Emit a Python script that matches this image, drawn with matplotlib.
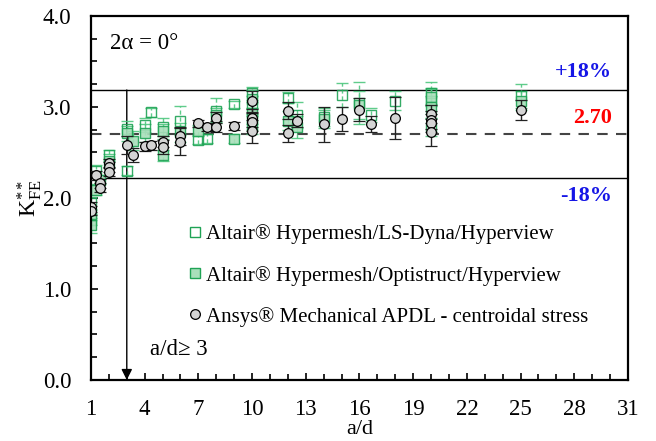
import numpy as np
import matplotlib
matplotlib.use("Agg")
import matplotlib.pyplot as plt
from matplotlib.lines import Line2D
from matplotlib.ticker import MultipleLocator, FixedLocator

plt.rcParams['font.family'] = ['Liberation Serif', 'DejaVu Serif']
plt.rcParams['mathtext.fontset'] = 'custom'
plt.rcParams['mathtext.rm'] = 'Liberation Serif'
plt.rcParams['mathtext.it'] = 'Liberation Serif:italic'

# Altair Hypermesh / LS-Dyna (open squares)
lsdyna_x = [1.0, 1.0, 1.3, 2.0, 3.0, 3.0, 4.0, 4.33, 5.0, 6.0, 7.0, 7.5, 8.0, 9.0,
            10.0, 10.0, 10.0, 12.0, 12.5, 14.0, 15.0, 16.0, 16.67, 18.0, 20.0, 20.0, 20.0, 25.0]
lsdyna_y = [1.76, 1.94, 2.30, 2.47, 2.76, 2.30, 2.80, 2.94, 2.78, 2.85, 2.64, 2.65, 2.96, 3.03,
            3.15, 3.02, 2.87, 3.10, 2.91, 2.89, 3.13, 3.04, 2.91, 3.07, 3.15, 3.06, 2.78, 3.12]
lsdyna_err = [0.06, 0.07, 0.06, 0.06, 0.08, 0.05, 0.08, 0.05, 0.10, 0.16, 0.05, 0.05, 0.14, 0.04,
              0.07, 0.10, 0.12, 0.06, 0.14, 0.10, 0.13, 0.23, 0.08, 0.10, 0.12, 0.14, 0.10, 0.13]

# Altair Hypermesh / Optistruct (filled squares)
optistruct_x = [1.0, 1.0, 1.3, 1.5, 2.0, 3.0, 3.33, 4.0, 5.0, 5.0, 6.0, 7.0, 8.0, 9.0,
                10.0, 10.0, 10.0, 12.0, 12.5, 14.0, 16.0, 20.0, 20.0, 25.0]
optistruct_y = [1.70, 1.82, 2.09, 2.20, 2.41, 2.71, 2.63, 2.71, 2.73, 2.47, 2.72, 2.74, 2.91, 2.65,
                3.09, 2.93, 2.80, 2.85, 2.78, 2.87, 3.02, 3.11, 3.00, 3.07]
optistruct_err = [0.08, 0.06, 0.06, 0.05, 0.07, 0.08, 0.10, 0.10, 0.08, 0.06, 0.10, 0.06, 0.08, 0.05,
                  0.10, 0.12, 0.10, 0.10, 0.12, 0.10, 0.15, 0.10, 0.12, 0.10]

# Ansys Mechanical APDL - centroidal stress (grey circles)
ansys_x = [1.0, 1.0, 1.3, 1.5, 1.5, 2.0, 2.0, 2.0, 3.0, 3.33, 4.0, 4.33, 5.0, 5.0, 6.0, 6.0,
           7.0, 7.5, 8.0, 8.0, 9.0, 10.0, 10.0, 10.0, 10.0, 12.0, 12.0, 12.5, 14.0, 15.0,
           16.0, 16.67, 18.0, 20.0, 20.0, 20.0, 20.0, 25.0]
ansys_y = [1.90, 1.86, 2.25, 2.16, 2.11, 2.38, 2.34, 2.29, 2.58, 2.47, 2.57, 2.58, 2.62, 2.56,
           2.68, 2.62, 2.82, 2.78, 2.88, 2.78, 2.79, 3.06, 2.88, 2.83, 2.73, 2.96, 2.71, 2.85,
           2.81, 2.87, 2.97, 2.81, 2.88, 2.92, 2.86, 2.82, 2.72, 2.97]
ansys_err = [0.05, 0.05, 0.05, 0.05, 0.05, 0.05, 0.05, 0.05, 0.10, 0.08, 0.05, 0.05, 0.06, 0.08,
             0.10, 0.15, 0.04, 0.04, 0.06, 0.06, 0.04, 0.12, 0.10, 0.10, 0.13, 0.09, 0.09, 0.07,
             0.19, 0.13, 0.13, 0.09, 0.23, 0.10, 0.10, 0.10, 0.15, 0.11]

mean_k = 2.70
band = 0.18

green = '#1fa355'
green_light = '#4fc77f'
green_fill = '#a9dfbb'

fig = plt.figure(figsize=(6.56, 4.41), dpi=100)
ax = fig.add_axes([0.1387, 0.1383, 0.8186, 0.8257])

ax.errorbar(lsdyna_x, lsdyna_y, yerr=lsdyna_err, fmt='s', ms=7, mfc='none', mec=green,
            mew=1.0, ecolor=green_light, elinewidth=1.0, capsize=4, capthick=1.0,
            ls='none', alpha=0.9, zorder=2)
ax.errorbar(optistruct_x, optistruct_y, yerr=optistruct_err, fmt='s', ms=7, mfc=green_fill,
            mec=green, mew=1.0, ecolor=green_light, elinewidth=1.0, capsize=4, capthick=1.0,
            ls='none', alpha=0.9, zorder=2)
for cont in ax.containers:
    for lc in cont[2]:
        lc.set_linestyle((0, (3, 2)))
ax.errorbar(ansys_x, ansys_y, yerr=ansys_err, fmt='o', ms=7, mfc='#d4d4d4', mec='black',
            mew=0.9, ecolor='#222222', elinewidth=1.0, capsize=4, capthick=1.0,
            ls='none', zorder=3)

ax.axhline(mean_k * (1 + band), color='black', lw=1.0, zorder=1)
ax.axhline(mean_k * (1 - band), color='black', lw=1.0, zorder=1)
ax.axhline(mean_k, color='#444444', lw=1.5, ls=(0, (5, 4)), zorder=1)

ax.annotate('', xy=(3, 0.0), xytext=(3, mean_k * (1 + band)),
            arrowprops=dict(arrowstyle='-|>', color='black', lw=1.0, mutation_scale=16,
                            shrinkA=0, shrinkB=0), zorder=1)

ax.text(30.1, 3.38, '+18%', color='#1515e6', fontsize=16, fontweight='bold', ha='right', va='center')
ax.text(30.1, 2.88, '2.70', color='#ff0000', fontsize=16, fontweight='bold', ha='right', va='center')
ax.text(30.1, 2.02, '-18%', color='#1515e6', fontsize=16, fontweight='bold', ha='right', va='center')
ax.text(2.05, 3.70, '2α = 0°', fontsize=16.5, ha='left', va='center')
ax.text(4.3, 0.33, 'a/d≥ 3', fontsize=16.5, ha='left', va='center')

handles = [
    Line2D([], [], ls='none', marker='s', ms=7, mfc='none', mec=green, mew=1.0),
    Line2D([], [], ls='none', marker='s', ms=7, mfc=green_fill, mec=green, mew=1.0),
    Line2D([], [], ls='none', marker='o', ms=7, mfc='#d4d4d4', mec='black', mew=0.9),
]
labels = ['Altair® Hypermesh/LS-Dyna/Hyperview',
          'Altair® Hypermesh/Optistruct/Hyperview',
          'Ansys® Mechanical APDL - centroidal stress']
ax.legend(handles, labels, loc='upper left', bbox_to_anchor=(0.165, 0.45), frameon=False,
          fontsize=15, handlelength=0.7, handletextpad=0.15, labelspacing=1.02, borderaxespad=0)

ax.set_xlim(1, 31)
ax.set_ylim(0, 4.0)
ax.xaxis.set_major_locator(FixedLocator(np.arange(1, 32, 3)))
ax.xaxis.set_minor_locator(MultipleLocator(1))
ax.yaxis.set_major_locator(MultipleLocator(1.0))
ax.yaxis.set_minor_locator(MultipleLocator(0.25))
ax.yaxis.set_major_formatter(matplotlib.ticker.FormatStrFormatter('%.1f'))
ax.tick_params(which='both', direction='in', top=False, right=False, labelsize=16.5, width=1.2)
ax.tick_params(which='major', length=5)
ax.tick_params(which='minor', length=4)
ax.tick_params(axis='x', which='major', pad=14)
ax.tick_params(axis='y', which='major', pad=14)
for s in ax.spines.values():
    s.set_linewidth(1.6)

ax.set_xlabel('a/d', fontsize=16, labelpad=-0.5)
ax.set_ylabel(r'K$^{**}_{\mathrm{FE}}$', fontsize=17, labelpad=-1)

fig.savefig('out.png', dpi=100)
